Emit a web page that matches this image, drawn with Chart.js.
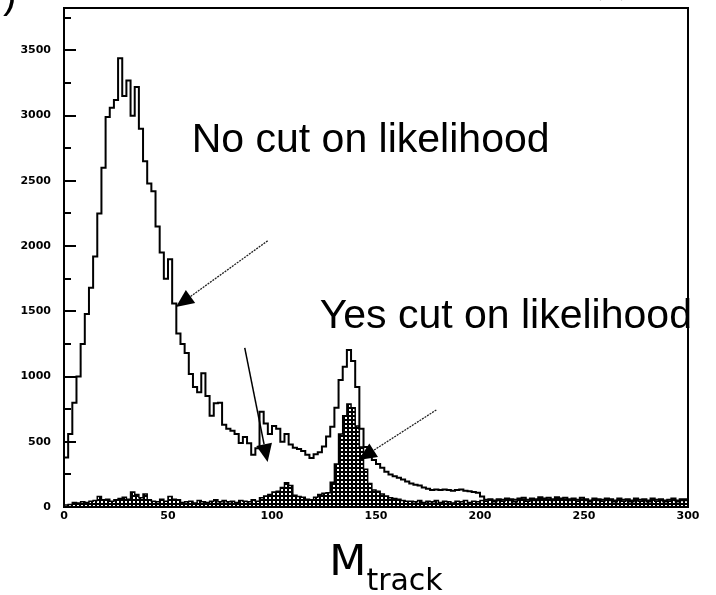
<!DOCTYPE html>
<html>
<head>
<meta charset="utf-8">
<script src="https://cdn.jsdelivr.net/npm/chart.js@4.4.0/dist/chart.umd.min.js"></script>
<style>
  html, body { margin: 0; padding: 0; background: #fff; }
  canvas { display: block; }
</style>
</head>
<body>
<canvas id="grafico" width="716" height="595"></canvas>
<script>
//Datos
const xTicks = [0, 50, 100, 150, 200, 250, 300];
const yTicks = [0, 500, 1000, 1500, 2000, 2500, 3000, 3500];
const yMinor = [250, 750, 1250, 1750, 2250, 2750, 3250, 3750];
const binWidth = 2;

// sin corte en likelihood (bins de 2 desde 0)
const sinCorte = [
  270, 380, 560, 800, 1000, 1250, 1480, 1680, 1920, 2250,
  2600, 2990, 3060, 3120, 3440, 3150, 3270, 3000, 3220, 2900,
  2650, 2480, 2420, 2150, 1950, 1750, 1900, 1560, 1330, 1250,
  1180, 1020, 920, 880, 1025, 850, 700, 796, 800, 630,
  600, 585, 560, 490, 537, 488, 400, 450, 730, 640,
  560, 620, 600, 500, 560, 480, 455, 445, 430, 400,
  375, 405, 420, 463, 540, 616, 760, 974, 1076, 1204,
  1120, 920, 600, 460, 400, 360, 330, 300, 270, 250,
  235, 225, 210, 195, 180, 170, 165, 150, 140, 130,
  135, 130, 135, 130, 125, 130, 135, 125, 120, 115,
  110, 80,
  55, 60, 50, 60, 55, 65, 60, 55, 65, 70,
  55, 65, 60, 75, 65, 70, 60, 75, 65, 70,
  60, 65, 55, 70, 60, 50, 65, 60, 55, 65,
  60, 50, 65, 55, 60, 50, 65, 55, 60, 50,
  65, 55, 60, 50, 55, 65, 50, 60
];

// con corte en likelihood
const conCorte = [
  10, 15, 20, 35, 30, 40, 35, 45, 50, 80,
  55, 60, 45, 55, 65, 75, 60, 115, 95, 70,
  100, 55, 45, 40, 60, 45, 80, 60, 55, 35,
  40, 45, 30, 50, 40, 35, 45, 55, 40, 50,
  40, 45, 35, 50, 45, 40, 55, 45, 70, 85,
  95, 115, 120, 150, 185, 165, 90, 80, 75, 60,
  55, 75, 95, 105, 110, 190, 330, 560, 700, 790,
  760, 620, 460, 290, 180, 130, 120, 100, 85, 70,
  65, 60, 50, 45,
  45, 40, 50, 35, 45, 40, 50, 35, 45, 40,
  30, 45, 40, 50, 35, 45, 40, 50, 45, 55,
  40, 50, 45, 55, 50, 40, 55, 60, 45, 55,
  50, 65, 55, 60, 50, 65, 55, 60, 50, 55,
  45, 60, 50, 40, 55, 50, 45, 55, 50, 40,
  55, 45, 50, 40, 55, 45, 50, 40, 55, 45,
  50, 40, 45, 55, 40, 50
];

//Funciones
function escalones(valores) {
  const puntos = valores.map((v, i) => ({ x: i * binWidth, y: v }));
  puntos.push({ x: valores.length * binWidth, y: valores[valores.length - 1] });
  return puntos;
}

function patronCuadros(ctx) {
  const c = document.createElement('canvas');
  c.width = 4; c.height = 4;
  const g = c.getContext('2d');
  g.fillStyle = '#000';
  g.fillRect(0, 0, 4, 4);
  g.fillStyle = '#fff';
  g.fillRect(1, 1, 2, 2);
  return ctx.createPattern(c, 'repeat');
}

function flecha(ctx, x1, y1, x2, y2, color, ancho, guion) {
  const ang = Math.atan2(y2 - y1, x2 - x1);
  const largo = 18, medio = 8;
  const bx = x2 - largo * Math.cos(ang), by = y2 - largo * Math.sin(ang);
  ctx.save();
  ctx.strokeStyle = color;
  ctx.lineWidth = ancho;
  ctx.setLineDash(guion);
  ctx.beginPath();
  ctx.moveTo(x1, y1);
  ctx.lineTo(bx, by);
  ctx.stroke();
  ctx.setLineDash([]);
  ctx.fillStyle = '#000';
  ctx.beginPath();
  ctx.moveTo(x2, y2);
  ctx.lineTo(bx + medio * Math.sin(ang), by - medio * Math.cos(ang));
  ctx.lineTo(bx - medio * Math.sin(ang), by + medio * Math.cos(ang));
  ctx.closePath();
  ctx.fill();
  ctx.restore();
}

const decoracion = {
  id: 'decoracion',
  afterDraw(chart) {
    const { ctx, chartArea } = chart;
    const sx = chart.scales.x, sy = chart.scales.y;
    ctx.save();
    // marco
    ctx.strokeStyle = '#000';
    ctx.lineWidth = 2;
    ctx.strokeRect(chartArea.left, chartArea.top, chartArea.right - chartArea.left, chartArea.bottom - chartArea.top);
    // marcas del eje y
    ctx.beginPath();
    yTicks.forEach(v => {
      const y = Math.round(sy.getPixelForValue(v));
      ctx.moveTo(chartArea.left, y);
      ctx.lineTo(chartArea.left + 12, y);
    });
    yMinor.forEach(v => {
      const y = Math.round(sy.getPixelForValue(v));
      ctx.moveTo(chartArea.left, y);
      ctx.lineTo(chartArea.left + 7, y);
    });
    ctx.stroke();

    // textos
    ctx.fillStyle = '#000';
    ctx.textBaseline = 'alphabetic';
    ctx.textAlign = 'left';
    ctx.font = '41px "Liberation Sans"';
    ctx.fillText('No cut on likelihood', sx.getPixelForValue(61.4), sy.getPixelForValue(2722));
    ctx.fillText('Yes cut on likelihood', sx.getPixelForValue(122.9), sy.getPixelForValue(1373));
    ctx.fillText(')', 3, 8);
    ctx.fillStyle = '#999';
    ctx.font = '36px "Liberation Serif"';
    ctx.fillText('(b)', 590, -7);

    // titulo eje x: M con subindice
    ctx.fillStyle = '#000';
    ctx.font = '43px "DejaVu Sans"';
    const anchoM = ctx.measureText('M').width;
    ctx.font = '30px "DejaVu Sans"';
    const anchoSub = ctx.measureText('track').width;
    const x0 = 386 - (anchoM + anchoSub) / 2;
    ctx.font = '43px "DejaVu Sans"';
    ctx.fillText('M', x0, 575);
    ctx.font = '30px "DejaVu Sans"';
    ctx.fillText('track', x0 + anchoM, 590);

    // flechas
    flecha(ctx, sx.getPixelForValue(97.9), sy.getPixelForValue(2040), sx.getPixelForValue(53.8), sy.getPixelForValue(1533), '#222', 1.3, [2, 1]);
    flecha(ctx, sx.getPixelForValue(86.9), sy.getPixelForValue(1220), sx.getPixelForValue(97.9), sy.getPixelForValue(345), '#000', 1.5, []);
    flecha(ctx, sx.getPixelForValue(179), sy.getPixelForValue(744), sx.getPixelForValue(141.6), sy.getPixelForValue(360), '#222', 1.3, [2, 1]);
    ctx.restore();
  }
};

//Grafico
const lienzo = document.querySelector('#grafico');
const ctx2d = lienzo.getContext('2d');

const config = {
  type: 'line',
  data: {
    datasets: [{
      label: 'No cut on likelihood',
      data: escalones(sinCorte),
      stepped: 'after',
      borderColor: '#000',
      borderWidth: 2,
      pointRadius: 0,
      fill: false,
      order: 0
    }, {
      label: 'Yes cut on likelihood',
      data: escalones(conCorte),
      stepped: 'after',
      borderColor: '#000',
      borderWidth: 1.5,
      backgroundColor: patronCuadros(ctx2d),
      pointRadius: 0,
      fill: 'origin',
      order: 1
    }]
  },
  options: {
    responsive: false,
    animation: false,
    devicePixelRatio: 1,
    layout: { padding: { top: 8, right: 28, left: 0, bottom: 0 } },
    plugins: {
      legend: { display: false },
      tooltip: { enabled: false }
    },
    scales: {
      x: {
        type: 'linear',
        min: 0,
        max: 300,
        afterBuildTicks: s => { s.ticks = xTicks.map(v => ({ value: v })); },
        afterFit: s => { s.height = 88; s.paddingLeft = 0; s.paddingRight = 0; },
        grid: { display: false, drawTicks: false, tickLength: 0 },
        border: { display: false },
        ticks: {
          color: '#000',
          padding: 3,
          maxRotation: 0,
          autoSkip: false,
          callback: v => String(v),
          font: { family: 'DejaVu Sans', size: 11, weight: 'bold' }
        }
      },
      y: {
        type: 'linear',
        min: 0,
        max: 3825,
        afterBuildTicks: s => { s.ticks = yTicks.map(v => ({ value: v })); },
        afterFit: s => { s.width = 64; s.paddingTop = 0; s.paddingBottom = 0; },
        grid: { display: false, drawTicks: false, tickLength: 0 },
        border: { display: false },
        ticks: {
          color: '#000',
          padding: 13,
          autoSkip: false,
          callback: v => String(v),
          font: { family: 'DejaVu Sans', size: 11, weight: 'bold' }
        }
      }
    }
  },
  plugins: [decoracion]
};

new Chart(lienzo, config);
</script>
</body>
</html>
